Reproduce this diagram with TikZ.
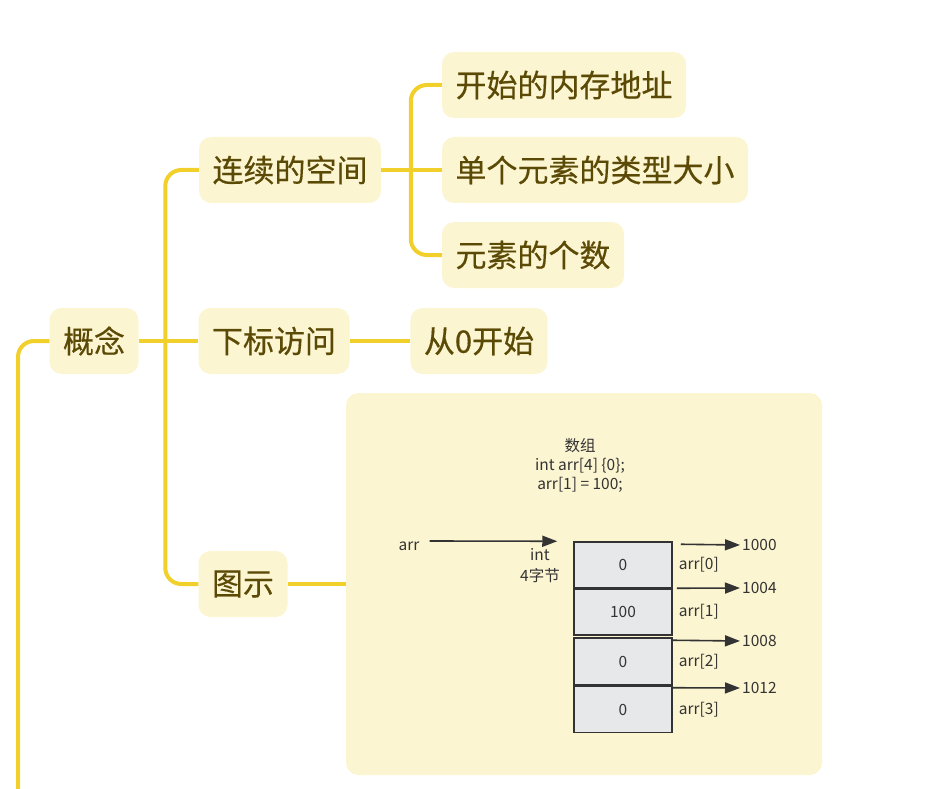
\documentclass[tikz,border=0pt]{standalone}
\usepackage{fontspec}
\setmainfont{Noto Sans CJK SC}
\newfontfamily\mindfont{Noto Sans CJK SC}[FakeBold=0.4]
\usetikzlibrary{arrows.meta, positioning}
\definecolor{mind-line}{HTML}{F2D02C}
\definecolor{mind-fill}{HTML}{FCF5D2}
\definecolor{mind-text}{HTML}{5B4A05}
\definecolor{cell-fill}{HTML}{E6E8EA}
\definecolor{ink}{HTML}{333333}

\begin{document}
\begin{tikzpicture}[x=1pt, y=-1pt,
    topic/.style={fill=mind-fill, rounded corners=12pt, text=mind-text,
      font=\mindfont\fontsize{31}{36}\selectfont, minimum height=66pt, inner xsep=13.5pt},
    branch/.style={draw=mind-line, line width=4pt, rounded corners=16pt},
    small/.style={text=ink, font=\fontsize{15.5}{19}\selectfont, inner sep=2pt},
    cell/.style={draw=ink, fill=cell-fill, line width=1.5pt, minimum width=98pt,
      minimum height=46pt, text=ink, font=\fontsize{15.5}{19}\selectfont},
    ptr/.style={draw=ink, line width=1.6pt, -{Triangle[length=15pt, width=11pt]}}]
  \useasboundingbox (0,0) rectangle (927,789);

  % mind map
  \node[topic] (gainian) at (94,341) {概念};
  \node[topic] (lianxu) at (290,170) {连续的空间};
  \node[topic] (xiabiao) at (274,341) {下标访问};
  \node[topic] (tushi) at (243,584) {图示};
  \node[topic] (kaishi) at (564,85) {开始的内存地址};
  \node[topic] (danyuan) at (595,170) {单个元素的类型大小};
  \node[topic] (geshu) at (533,255) {元素的个数};
  \node[topic] (cong0) at (479,341) {从0开始};
  \node[fill=mind-fill, rounded corners=12pt, minimum width=476pt,
        minimum height=382pt] (panel) at (584,584) {};
  \coordinate (root) at (18,789);

  \draw[branch] (root) |- (gainian.west);
  \draw[branch] (lianxu.west) -| ([xshift=-33pt]tushi.west) -- (tushi.west);
  \draw[branch] (gainian.east) -- (xiabiao.west);
  \draw[branch] (kaishi.west) -| ([xshift=-31pt]geshu.west) -- (geshu.west);
  \draw[branch] (lianxu.east) -- (danyuan.west);
  \draw[branch] (xiabiao.east) -- (cong0.west);
  \draw[branch] (tushi.east) -- (panel.west);

  % array picture
  \node[small, align=center] (title) at (580,465) {数组\\int arr[4] \{0\};\\arr[1] = 100;};
  \node[small] (arr) at (409,546) {arr};
  \node[small, align=center, font=\fontsize{15.5}{21}\selectfont] (size) at (540,566) {int\\4字节};
  \node[cell] (cell0) at (623,565) {0};
  \node[cell] (cell1) at (623,612) {100};
  \node[cell, minimum height=47pt] (cell2) at (623,661.5) {0};
  \node[cell] (cell3) at (623,709.5) {0};
  \foreach \i in {0,...,3}
    \node[small, right=4pt of cell\i] (lab\i) {arr[\i]};
  \node[small, anchor=west] (addr0) at (740,545) {1000};
  \node[small, anchor=west] (addr1) at (740,588) {1004};
  \node[small, anchor=west] (addr2) at (740,641) {1008};
  \node[small, anchor=west] (addr3) at (740,688) {1012};

  \draw[ptr] ([shift={(8pt,5pt)}]arr.east) -- ([xshift=-16pt]cell0.north west);
  \draw[ptr] ([shift={(8pt,-3pt)}]cell0.north east) -- (addr0.west);
  \draw[ptr] ([xshift=4pt]cell1.north east) -- (addr1.west);
  \draw[ptr] ([yshift=-3pt]cell2.north east) -- (addr2.west);
  \draw[ptr] ([yshift=-2pt]cell3.north east) -- (addr3.west);
\end{tikzpicture}
\end{document}
